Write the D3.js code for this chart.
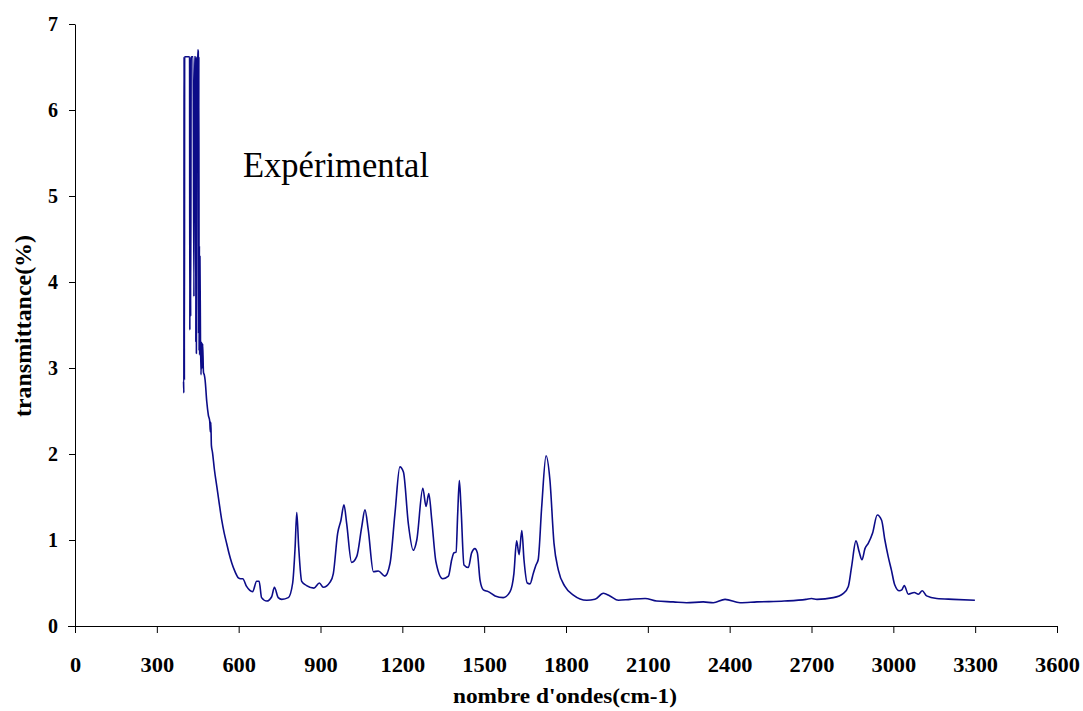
<!DOCTYPE html>
<html>
<head>
<meta charset="utf-8">
<script src="https://cdn.jsdelivr.net/npm/d3@7"></script>
<style>
  body { margin: 0; background: #fff; }
  text { font-family: "Liberation Serif", "Times New Roman", serif; }
</style>
</head>
<body>
<div id="chart"></div>
<script>
// spectrum
const wavenumber = [
  398, 399, 400, 401, 402, 410, 418, 420, 421, 422, 424, 426, 427, 433, 436, 438, 442, 443, 444, 445,
  447, 450, 452, 453, 454, 455, 456, 457, 458, 460,
  462, 464, 466, 468, 471, 474, 477, 483, 489, 494, 496, 498, 500, 504, 511, 520, 529, 538, 547, 556,
  565, 575, 587, 599, 607, 615, 629, 651, 666, 675, 684, 703, 721, 731, 745, 758, 782, 798, 807, 813,
  820, 831, 849, 876, 896, 910, 935, 947, 963, 975, 986, 996, 1014, 1033, 1051, 1063, 1075, 1094, 1112, 1136,
  1155, 1173, 1191, 1204, 1222, 1240, 1253, 1275, 1287, 1297, 1308, 1323, 1348, 1369, 1381, 1389, 1397, 1403, 1409, 1415,
  1426, 1442, 1454, 1466, 1475, 1485, 1497, 1515, 1540, 1570, 1595, 1609, 1619, 1628, 1638, 1646, 1658, 1668, 1680, 1690,
  1698, 1711, 1727, 1741, 1756, 1772, 1796, 1827, 1876, 1906, 1937, 1961, 1992, 2035, 2090, 2132, 2193, 2242, 2303, 2340,
  2383, 2438, 2500, 2600, 2680, 2700, 2720, 2780, 2817, 2835, 2847, 2863, 2875, 2885, 2896, 2908, 2924, 2941, 2957, 2969,
  2981, 2993, 3005, 3022, 3031, 3040, 3055, 3077, 3092, 3106, 3122, 3159, 3220, 3299
];
const transmittance = [
  2.84, 2.71, 6.62, 2.86, 6.62, 6.62, 6.62, 6.62, 3.44, 6.62, 3.60, 6.62, 6.62, 6.62, 3.83, 6.62, 6.62, 3.30, 6.62, 3.17,
  6.00, 6.70, 6.68, 3.40, 6.62, 3.20, 4.42, 3.15, 4.30, 3.33,
  2.92, 3.30, 3.00, 3.28, 2.95, 2.92, 2.86, 2.61, 2.45, 2.38, 2.26, 2.37, 2.10, 2.02, 1.82, 1.62, 1.42, 1.23, 1.08, 0.96,
  0.84, 0.73, 0.63, 0.56, 0.55, 0.55, 0.46, 0.40, 0.52, 0.52, 0.33, 0.29, 0.34, 0.45, 0.33, 0.31, 0.33, 0.50, 0.92, 1.32,
  0.92, 0.52, 0.47, 0.44, 0.50, 0.45, 0.51, 0.61, 1.08, 1.23, 1.41, 1.19, 0.74, 0.81, 1.15, 1.35, 1.12, 0.63, 0.64, 0.58,
  0.73, 1.31, 1.85, 1.79, 1.19, 0.88, 1.00, 1.60, 1.39, 1.54, 1.23, 0.75, 0.55, 0.58, 0.77, 0.85, 0.86, 1.31, 1.69, 1.39,
  0.71, 0.68, 0.85, 0.90, 0.85, 0.53, 0.42, 0.40, 0.35, 0.33, 0.40, 0.61, 0.99, 0.83, 1.11, 0.77, 0.50, 0.49, 0.61, 0.71,
  0.77, 1.39, 1.98, 1.70, 0.96, 0.65, 0.46, 0.36, 0.30, 0.31, 0.38, 0.35, 0.30, 0.31, 0.32, 0.29, 0.28, 0.27, 0.28, 0.27,
  0.31, 0.27, 0.28, 0.29, 0.31, 0.32, 0.31, 0.33, 0.38, 0.46, 0.69, 0.99, 0.86, 0.77, 0.90, 0.96, 1.08, 1.29, 1.23, 1.00,
  0.81, 0.65, 0.48, 0.41, 0.42, 0.47, 0.37, 0.39, 0.37, 0.41, 0.35, 0.32, 0.31, 0.30
];
const xTicks = [0, 300, 600, 900, 1200, 1500, 1800, 2100, 2400, 2700, 3000, 3300, 3600];
const yTicks = [0, 1, 2, 3, 4, 5, 6, 7];

const width = 1083, height = 711;
const plotLeft = 75, plotRight = 1057, plotTop = 24, plotBottom = 626;

const svg = d3.select('#chart')
  .append('svg')
  .attr('width', width)
  .attr('height', height);

const xScale = d3.scaleLinear().domain([0, 3600]).range([plotLeft, plotRight]);
const yScale = d3.scaleLinear().domain([0, 7]).range([plotBottom, plotTop]);

// x axis
const xAxis = svg.append('g')
  .attr('transform', `translate(0,${plotBottom})`)
  .call(d3.axisBottom(xScale).tickValues(xTicks).tickSize(7).tickSizeOuter(0).tickFormat(d3.format('d')));
xAxis.select('.domain').attr('d', `M${plotLeft - 7},0.5H${plotRight}`);
xAxis.selectAll('text')
  .attr('y', 46).attr('dy', 0)
  .attr('transform', 'scale(1.12,1)')
  .style('font-size', '20px').style('font-weight', 'bold').attr('fill', '#000');

// y axis
const yAxis = svg.append('g')
  .attr('transform', `translate(${plotLeft},0)`)
  .call(d3.axisLeft(yScale).tickValues(yTicks).tickSize(6).tickSizeOuter(0).tickFormat(d3.format('d')));
yAxis.selectAll('text')
  .attr('x', -17)
  .style('font-size', '20px').style('font-weight', 'bold').attr('fill', '#000');

svg.selectAll('.domain, .tick line').attr('stroke', '#000');

// spectrum line
const line = d3.line()
  .x((d, i) => xScale(wavenumber[i]))
  .y(d => yScale(d))
  .curve(d3.curveMonotoneX);

svg.append('path')
  .datum(transmittance)
  .attr('d', line)
  .attr('fill', 'none')
  .attr('stroke', '#0c0c88')
  .attr('stroke-width', 1.6)
  .attr('stroke-linejoin', 'round');

// titles
svg.append('text')
  .attr('x', 565).attr('y', 703)
  .attr('text-anchor', 'middle')
  .attr('textLength', 224).attr('lengthAdjust', 'spacingAndGlyphs')
  .style('font-size', '21px').style('font-weight', 'bold')
  .text("nombre d'ondes(cm-1)");

svg.append('text')
  .attr('transform', 'translate(31,326) rotate(-90)')
  .attr('text-anchor', 'middle')
  .attr('textLength', 182).attr('lengthAdjust', 'spacingAndGlyphs')
  .style('font-size', '23px').style('font-weight', 'bold')
  .text('transmittance(%)');

svg.append('text')
  .attr('x', 243).attr('y', 177)
  .attr('textLength', 186).attr('lengthAdjust', 'spacingAndGlyphs')
  .style('font-size', '35px')
  .text('Expérimental');
</script>
</body>
</html>
